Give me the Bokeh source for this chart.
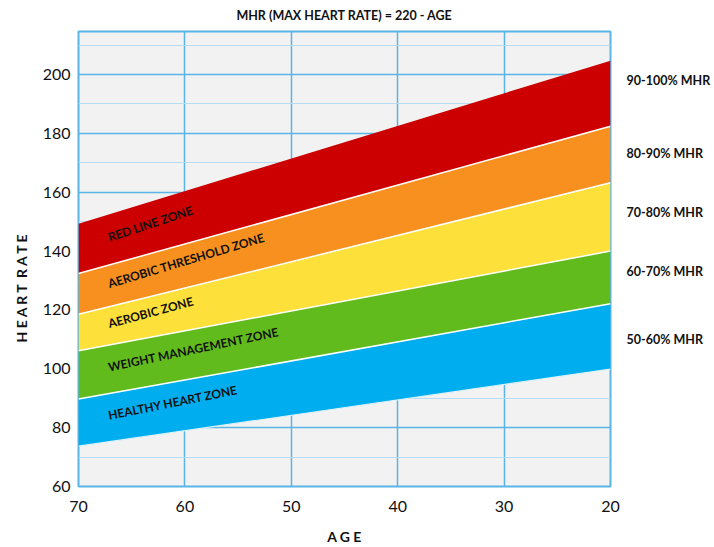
import math
from bokeh.plotting import figure
from bokeh.models import Range1d, Label, FixedTicker, LinearAxis, Title
from bokeh.embed import file_html
from bokeh.resources import INLINE

# ---------------- data ----------------
ages = [70, 20]
hr_50 = [73.7, 99.9]
hr_60 = [89.7, 122.1]
hr_70 = [106.1, 140.0]
hr_80 = [118.5, 163.2]
hr_90 = [132.4, 182.4]
hr_100 = [149.3, 204.7]

zone_names = ["HEALTHY HEART ZONE", "WEIGHT MANAGEMENT ZONE", "AEROBIC ZONE",
              "AEROBIC THRESHOLD ZONE", "RED LINE ZONE"]
pct_labels = ["50-60% MHR", "60-70% MHR", "70-80% MHR", "80-90% MHR", "90-100% MHR"]
pct_label_y = [110, 133, 153, 173, 198]
x_ticks = [70, 60, 50, 40, 30, 20]
y_ticks = [60, 80, 100, 120, 140, 160, 180, 200]
y_minor = [70, 90, 110, 130, 150, 170, 190, 210]

# ---------------- style ----------------
FONT = "Lato, 'Liberation Sans', Arial, sans-serif"
zone_colors = ["#00aeef", "#62bb1c", "#fde03a", "#f7901e", "#cc0000"]
GRID = "#5ab4e5"
INK = "#111111"
W, H = 714, 547
BL, BR, BT, BB = 78, 104, 30, 61
Y0, Y1 = 60, 214.6

p = figure(width=W, height=H, output_backend="svg", toolbar_location=None,
           x_range=Range1d(70, 20), y_range=Range1d(Y0, Y1),
           min_border_left=BL, min_border_right=BR, min_border_top=BT, min_border_bottom=BB,
           background_fill_color="#f2f2f2", border_fill_color="white",
           outline_line_color=GRID, outline_line_width=2)

p.title.text = "MHR (MAX HEART RATE) = 220 - AGE"
p.title.align = "center"
p.title.vertical_align = "top"
p.title.text_font = FONT
p.title.text_font_size = "12.5px"
p.title.text_font_style = "bold"
p.title.text_color = INK
p.title.standoff = 14

# axes
p.xaxis.ticker = FixedTicker(ticks=x_ticks)
p.yaxis.ticker = FixedTicker(ticks=y_ticks)
for ax in (p.xaxis[0], p.yaxis[0]):
    ax.axis_line_color = None
    ax.major_tick_line_color = None
    ax.minor_tick_line_color = None
    ax.major_tick_out = 0
    ax.minor_tick_out = 0
    ax.major_label_text_font = FONT
    ax.major_label_text_font_size = "16px"
    ax.major_label_text_color = INK
p.xaxis.axis_label = "A G E"
p.xaxis.axis_label_text_font = FONT
p.xaxis.axis_label_text_font_size = "14px"
p.xaxis.axis_label_text_font_style = "bold"
p.xaxis.axis_label_text_color = INK
p.xaxis.axis_label_text_line_height = 1.0
p.xaxis.major_label_standoff = 14
p.yaxis.major_label_standoff = 8
p.xaxis.axis_label_standoff = 13

# y axis title, placed like the reference (lower than frame centre)
p.add_layout(Title(text="H E A R T\u00a0 R A T E", align="left", offset=144,
                   vertical_align="top",
                   text_font=FONT, text_font_size="14px", text_font_style="bold",
                   text_color=INK, standoff=16), "left")

# right-hand zone percentage labels
rax = LinearAxis(ticker=FixedTicker(ticks=pct_label_y),
                 major_label_overrides={v: t for v, t in zip(pct_label_y, pct_labels)})
rax.axis_line_color = None
rax.major_tick_line_color = None
rax.minor_tick_line_color = None
rax.major_tick_out = 0
rax.minor_tick_out = 0
rax.major_label_standoff = 16
rax.major_label_text_font = FONT
rax.major_label_text_font_size = "12.5px"
rax.major_label_text_font_style = "bold"
rax.major_label_text_color = INK
p.add_layout(rax, "right")

# grid
p.xgrid.ticker = FixedTicker(ticks=x_ticks)
p.ygrid.ticker = FixedTicker(ticks=y_ticks, minor_ticks=y_minor)
p.xgrid.grid_line_color = GRID
p.xgrid.grid_line_width = 1.5
p.ygrid.grid_line_color = GRID
p.ygrid.grid_line_width = 1.5
p.ygrid.minor_grid_line_color = "#b5dcf2"
p.ygrid.minor_grid_line_width = 1.2

# bands
bounds = [hr_50, hr_60, hr_70, hr_80, hr_90, hr_100]
for i in range(5):
    p.varea(x=ages, y1=bounds[i], y2=bounds[i + 1], fill_color=zone_colors[i])
p.line(x=ages, y=hr_50, line_color="#dff2fb", line_width=1.2)
for b in bounds[1:5]:
    p.line(x=ages, y=b, line_color="white", line_width=1.5)

# zone labels
frame_w = W - BL - BR
frame_h = H - BT - BB
px_x = frame_w / abs(ages[0] - ages[1])
px_y = frame_h / (Y1 - Y0)
label_age = 67.2
for i, name in enumerate(zone_names):
    lo, up = bounds[i], bounds[i + 1]
    slope = (up[1] - up[0]) * px_y / (abs(ages[0] - ages[1]) * px_x)
    ang = math.atan(slope) + 0.02
    f = (ages[0] - label_age) / (ages[0] - ages[1])
    mid = (lo[0] + f * (lo[1] - lo[0]) + up[0] + f * (up[1] - up[0])) / 2 + 0.8
    p.add_layout(Label(x=label_age, y=mid, text=name, angle=ang,
                       text_align="left", text_baseline="middle",
                       text_font=FONT, text_font_size="12px", text_font_style="bold",
                       text_color=INK))

open("out.html", "w").write(file_html(p, INLINE))
